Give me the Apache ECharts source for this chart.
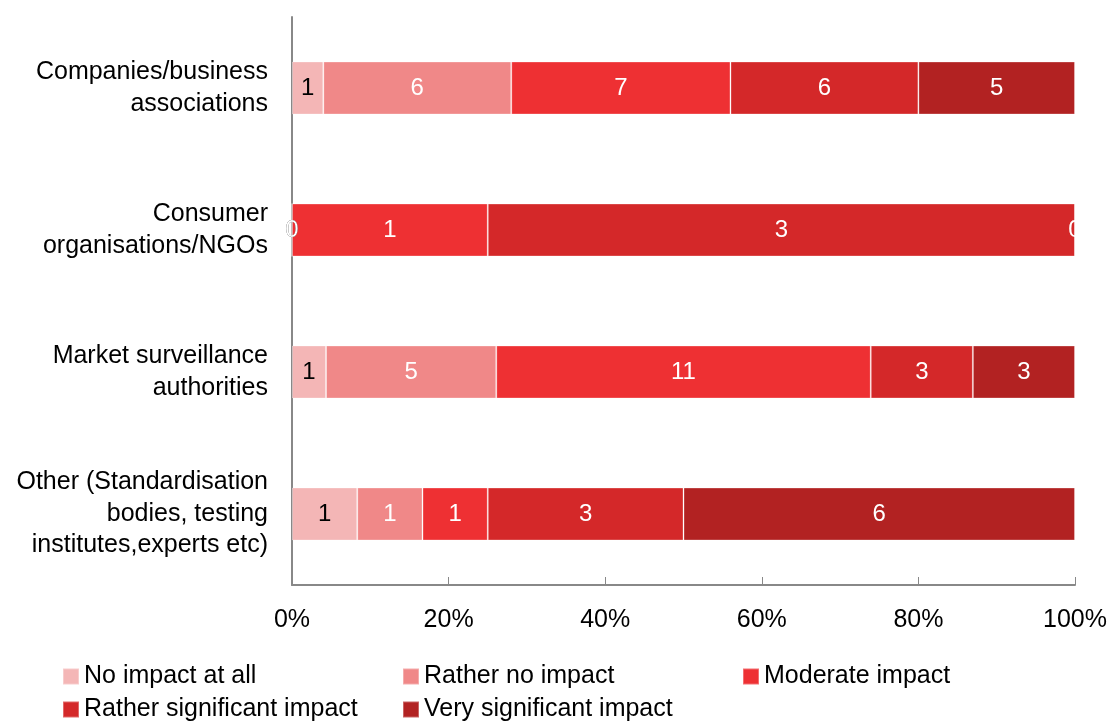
<!DOCTYPE html>
<html><head><meta charset="utf-8">
<script src="https://cdn.jsdelivr.net/npm/echarts@6/dist/echarts.min.js"></script>
<style>html,body{margin:0;padding:0;background:#fff}#c{width:1110px;height:723px}</style>
</head><body><div id="c"></div>
<script>
const categories = [
  'Companies/business\nassociations',
  'Consumer\norganisations/NGOs',
  'Market surveillance\nauthorities',
  'Other (Standardisation\nbodies, testing\ninstitutes,experts etc)'
];
const seriesNames = ['No impact at all','Rather no impact','Moderate impact','Rather significant impact','Very significant impact'];
const noImpact = [1, 0, 1, 1];
const ratherNo = [6, 0, 5, 1];
const moderate = [7, 1, 11, 1];
const ratherSig = [6, 3, 3, 3];
const verySig = [5, 0, 3, 6];
const colors = ['#f4b6b6','#f08888','#ee3033','#d42829','#b22222'];
const tickLabels = ['0%','20%','40%','60%','80%','100%'];

const raw = [noImpact, ratherNo, moderate, ratherSig, verySig];
const totals = categories.map((_, i) => raw.reduce((s, a) => s + a[i], 0));
const font = 'Liberation Sans, Arial, sans-serif';

const legendPos = [[62, 664], [402, 664], [742, 664], [62, 697], [402, 697]];
const legends = seriesNames.map((n, k) => ({
  left: legendPos[k][0], top: legendPos[k][1], padding: 0, itemWidth: 16, itemHeight: 16, icon: 'rect',
  textStyle: {fontSize: 25, fontFamily: font, color: '#000'},
  data: [n]
}));

const chart = echarts.init(document.getElementById('c'));
chart.setOption({
  animation: false,
  grid: {left: 292, right: 35, top: 17, bottom: 138},
  xAxis: {
    type: 'value', min: 0, max: 100, interval: 20,
    axisLine: {show: true, lineStyle: {color: '#888', width: 2}},
    axisTick: {show: true, inside: true, length: 8, lineStyle: {color: '#888', width: 1}},
    splitLine: {show: false},
    axisLabel: {margin: 23, color: '#000', fontSize: 25, fontFamily: font,
      formatter: v => tickLabels[Math.round(v / 20)]}
  },
  yAxis: {
    type: 'category', inverse: true, data: categories,
    axisLine: {show: true, lineStyle: {color: '#888', width: 2}},
    axisTick: {show: false},
    axisLabel: {margin: 24, color: '#000', fontSize: 25, fontFamily: font, lineHeight: 31.5, align: 'right'}
  },
  legend: legends,
  series: raw.map((arr, k) => ({
    name: seriesNames[k], type: 'bar', stack: 'all', barWidth: 53,
    itemStyle: {color: colors[k], borderColor: 'rgba(255,255,255,0.3)', borderWidth: 1},
    label: {show: true, position: 'inside', fontSize: 24, fontFamily: font,
      color: k === 0 ? '#000' : '#fff',
      formatter: p => String(arr[p.dataIndex])},
    data: arr.map((v, i) => v / totals[i] * 100)
  }))
});
</script></body></html>
